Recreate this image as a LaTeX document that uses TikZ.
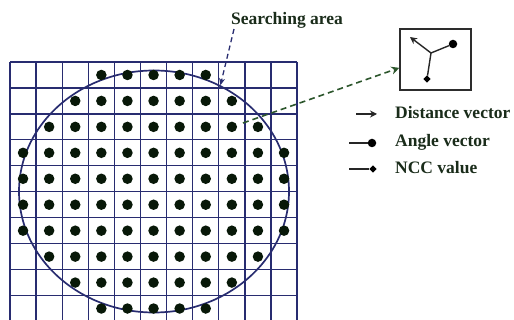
\documentclass[tikz,border=0pt]{standalone}
\usepackage{fontspec}
\setmainfont{Liberation Serif}
\usetikzlibrary{arrows.meta,shapes.geometric}
\definecolor{gridblue}{RGB}{40,44,112}
\definecolor{dotgreen}{RGB}{8,24,8}
\definecolor{txtgreen}{RGB}{26,44,26}
\definecolor{linkgreen}{RGB}{44,86,44}
\definecolor{boxgray}{RGB}{45,45,45}
\tikzset{
  >=Stealth,
}

\begin{document}
\begin{tikzpicture}[
  x=1pt, y=-1pt,
  gridline/.style={draw=gridblue,line width=1.3pt},
  dot/.style={circle,fill=dotgreen,inner sep=0pt,minimum size=10.5pt},
  legtext/.style={font=\fontsize{17.5}{20}\selectfont\bfseries,text=txtgreen,anchor=base west,inner sep=0pt},
  vec/.style={draw=black!85,line width=1.4pt},
  tipdot/.style={circle,fill=black,inner sep=0pt,minimum size=8.5pt},
  tipdiam/.style={diamond,fill=black,inner sep=0pt,minimum size=7.5pt}
]
\useasboundingbox (0,0) rectangle (514,320);

\begin{scope}
\clip (0,0) rectangle (514,320);
\foreach \i in {0,...,11}
  \draw[gridline] ({10+26.1*\i},62) -- ({10+26.1*\i},330);
\foreach \j in {0,...,10}
  \draw[gridline] (10,{62+25.95*\j}) -- (297.1,{62+25.95*\j});
\end{scope}

\node[ellipse,draw=gridblue,line width=1.7pt,minimum width=270pt,minimum height=242pt,inner sep=0pt] (area) at (154,191.5) {};

\foreach \r/\a/\b in {1/4/8,2/3/9,3/2/10,4/1/11,5/1/11,6/1/11,7/1/11,8/2/10,9/3/9,10/4/8}
  \foreach \c in {\a,...,\b}
    \node[dot] (d\r-\c) at ({10+26.1*(\c-0.5)},{62+25.95*(\r-0.5)}) {};

\node[legtext] (search) at (231,25) {Searching area};
\draw[draw=gridblue,line width=1.3pt,dash pattern=on 5pt off 3.5pt,-{Stealth[length=7pt,width=6pt]}]
  ([xshift=3pt]search.south west) -- (area.58);

\node[draw=boxgray,line width=1.4pt,minimum width=71pt,minimum height=61pt,inner sep=0pt] (box) at (435.5,59.5) {};
\coordinate (hub) at (431,53);
\coordinate (disttip) at (410,37);
\node[tipdot] (angtip) at (453,44) {};
\node[tipdiam] (ncctip) at (427,79) {};
\draw[vec,-{Stealth[length=7pt,width=7pt]}] (hub) -- (disttip);
\draw[vec] (hub) -- (angtip);
\draw[vec] (hub) -- (ncctip);

\coordinate (src) at (243,123);
\draw[draw=linkgreen,line width=1.6pt,dash pattern=on 6pt off 4pt,-{Stealth[length=8pt,width=8pt]}]
  (src) -- (box.193);

\coordinate (dstart) at (356,114);
\coordinate (dend) at (377,114);
\draw[vec,-{Stealth[length=7pt,width=7pt]}] (dstart) -- (dend);
\coordinate (astart) at (349,143);
\node[tipdot] (aend) at (372,143) {};
\draw[vec] (astart) -- (aend);
\coordinate (nstart) at (349,169);
\node[tipdiam] (nend) at (373,169) {};
\draw[vec] (nstart) -- (nend);

\node[legtext] (distlbl) at (395,119) {Distance vector};
\node[legtext] (anglbl) at (395,146.5) {Angle vector};
\node[legtext] (ncclbl) at (395,174) {NCC value};
\end{tikzpicture}
\end{document}
